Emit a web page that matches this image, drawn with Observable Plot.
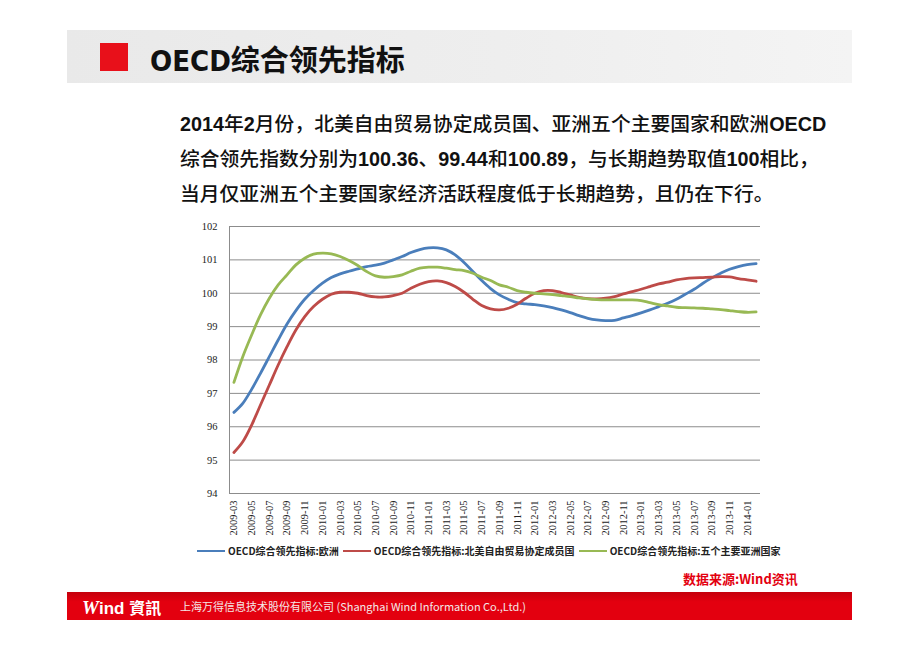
<!DOCTYPE html>
<html>
<head>
<meta charset="utf-8">
<script src="https://cdn.jsdelivr.net/npm/d3@7"></script>
<script src="https://cdn.jsdelivr.net/npm/@observablehq/plot@0.6"></script>
<style>
  html, body { margin: 0; padding: 0; background: #fff; }
  body { width: 920px; height: 651px; position: relative; overflow: hidden; font-family: "Liberation Sans", "Noto Sans CJK SC", sans-serif; }
  .titlebar { position: absolute; left: 67px; top: 30px; width: 785px; height: 53px;
    background: linear-gradient(to right, #e9e9e9 0%, #eeeeee 55%, #f4f4f4 100%); }
  .redsq { position: absolute; left: 100px; top: 43px; width: 28px; height: 28px; background: #e8101a; }
  .title { position: absolute; left: 150px; top: 37px; font-family: "Liberation Sans Narrow", "DejaVu Sans Condensed", "Noto Sans CJK SC", sans-serif;
    font-weight: bold; font-size: 29px; color: #111; }
  .para { position: absolute; left: 180px; top: 106px; width: 680px; font-size: 19.8px; line-height: 34px; color: #111;
    font-family: "Noto Sans CJK SC", sans-serif; font-weight: 500; }
  .para b { font-family: "Liberation Sans", sans-serif; font-weight: bold; }
  #chart { position: absolute; left: 180px; top: 215px; }
  .legend { position: absolute; left: 197px; top: 543px; font-size: 10px; font-family: "Noto Sans CJK SC", sans-serif; font-weight: bold; color: #222; white-space: nowrap; display: flex; align-items: center; }
  .legend .sw { display: inline-block; width: 28px; height: 2px; margin-right: 3px; }
  .legend .item { display: inline-flex; align-items: center; margin-right: 4px; }
  .source { position: absolute; left: 683px; top: 569px; font-size: 13px; font-weight: bold; color: #e3000f; font-family: "Noto Sans CJK SC", sans-serif; }
  .footer { position: absolute; left: 67px; top: 592px; width: 785px; height: 28px;
    background: linear-gradient(to bottom, #c4000c 0%, #e3000f 35%, #e3000f 100%); }
  .logo { position: absolute; left: 82px; top: 595px; color: #fff; font-weight: bold; font-size: 17px; white-space: nowrap; }
  .logo i { font-family: "Liberation Serif", serif; font-size: 19px; }
  .logo .cj { font-family: "Noto Sans CJK TC", sans-serif; font-size: 16px; }
  .company { position: absolute; left: 180px; top: 598px; color: #f4e8e8; font-size: 11px; font-family: "Liberation Sans Narrow", "Noto Sans CJK SC", sans-serif; white-space: nowrap; }
</style>
</head>
<body>
<div class="titlebar"></div>
<div class="redsq"></div>
<div class="title">OECD综合领先指标</div>
<div class="para"><b>2014</b>年<b>2</b>月份，北美自由贸易协定成员国、亚洲五个主要国家和欧洲<b>OECD</b><br>综合领先指数分别为<b>100.36</b>、<b>99.44</b>和<b>100.89</b>，与长期趋势取值<b>100</b>相比，<br>当月仅亚洲五个主要国家经济活跃程度低于长期趋势，且仍在下行。</div>
<div id="chart"></div>
<div class="legend" id="legend"></div>
<div class="source">数据来源:Wind资讯</div>
<div class="footer"></div>
<div class="logo"><i>W</i>ind <span class="cj">資訊</span></div>
<div class="company">上海万得信息技术股份有限公司 (Shanghai Wind Information Co.,Ltd.)</div>
<script>
const months = [
  "2009-03","2009-04","2009-05","2009-06","2009-07","2009-08","2009-09","2009-10","2009-11","2009-12",
  "2010-01","2010-02","2010-03","2010-04","2010-05","2010-06","2010-07","2010-08","2010-09","2010-10",
  "2010-11","2010-12","2011-01","2011-02","2011-03","2011-04","2011-05","2011-06","2011-07","2011-08",
  "2011-09","2011-10","2011-11","2011-12","2012-01","2012-02","2012-03","2012-04","2012-05","2012-06",
  "2012-07","2012-08","2012-09","2012-10","2012-11","2012-12","2013-01","2013-02","2013-03","2013-04",
  "2013-05","2013-06","2013-07","2013-08","2013-09","2013-10","2013-11","2013-12","2014-01","2014-02"
];
const xTickLabels = [
  "2009-03","2009-05","2009-07","2009-09","2009-11","2010-01","2010-03","2010-05","2010-07","2010-09",
  "2010-11","2011-01","2011-03","2011-05","2011-07","2011-09","2011-11","2012-01","2012-03","2012-05",
  "2012-07","2012-09","2012-11","2013-01","2013-03","2013-05","2013-07","2013-09","2013-11","2014-01"
];
const yTicks = [94, 95, 96, 97, 98, 99, 100, 101, 102];

const europe = [
  96.43, 96.70, 97.12, 97.60, 98.10, 98.60, 99.08, 99.48, 99.82, 100.08,
  100.30, 100.47, 100.58, 100.66, 100.73, 100.80, 100.84, 100.90, 101.00, 101.10,
  101.22, 101.31, 101.36, 101.36, 101.30, 101.15, 100.92, 100.65, 100.38, 100.14,
  99.95, 99.82, 99.72, 99.68, 99.66, 99.62, 99.57, 99.50, 99.42, 99.33,
  99.25, 99.20, 99.18, 99.19, 99.26, 99.33, 99.41, 99.50, 99.60, 99.70,
  99.82, 99.97, 100.12, 100.30, 100.46, 100.60, 100.72, 100.80, 100.86, 100.89
];
const nafta = [
  95.23, 95.55, 96.05, 96.65, 97.25, 97.85, 98.40, 98.90, 99.30, 99.60,
  99.82, 99.97, 100.03, 100.03, 100.00, 99.93, 99.89, 99.89, 99.93, 100.00,
  100.15, 100.27, 100.35, 100.37, 100.32, 100.20, 100.03, 99.82, 99.63, 99.53,
  99.50, 99.55, 99.67, 99.85, 100.00, 100.08, 100.08, 100.02, 99.95, 99.88,
  99.84, 99.83, 99.85, 99.90, 99.98, 100.05, 100.12, 100.20, 100.28, 100.33,
  100.40, 100.44, 100.46, 100.47, 100.48, 100.50, 100.49, 100.44, 100.40, 100.36
];
const asia = [
  97.33, 98.10, 98.75, 99.35, 99.85, 100.25, 100.55, 100.85, 101.05, 101.17,
  101.20, 101.18, 101.10, 100.98, 100.83, 100.65, 100.52, 100.48, 100.50, 100.55,
  100.66, 100.75, 100.78, 100.78, 100.75, 100.71, 100.68, 100.60, 100.48, 100.38,
  100.25, 100.18, 100.08, 100.03, 100.00, 99.98, 99.96, 99.93, 99.90, 99.86,
  99.83, 99.81, 99.80, 99.80, 99.80, 99.80, 99.78, 99.72, 99.66, 99.62,
  99.58, 99.57, 99.56, 99.55, 99.53, 99.51, 99.48, 99.45, 99.43, 99.44
];
const seriesNames = ["OECD综合领先指标:欧洲", "OECD综合领先指标:北美自由贸易协定成员国", "OECD综合领先指标:五个主要亚洲国家"];
const seriesColors = ["#4a7ebb", "#be4b48", "#98b954"];

const seriesValues = [europe, nafta, asia];
const data = [];
seriesValues.forEach((vals, s) => vals.forEach((v, i) => data.push({month: months[i], value: v, series: seriesNames[s]})));

const leftAxisLine = (index, scales, values, dims) => {
  const x = dims.marginLeft + 0.5;
  return d3.create("svg:line")
    .attr("x1", x).attr("x2", x)
    .attr("y1", scales.y(yTicks[yTicks.length - 1])).attr("y2", scales.y(yTicks[0]))
    .attr("stroke", "#8c8c8c").attr("stroke-width", 1).node();
};

const chart = Plot.plot({
  width: 600,
  height: 330,
  marginLeft: 49,
  marginRight: 20,
  marginTop: 11,
  marginBottom: 52,
  style: {fontFamily: "Liberation Serif, serif", fontSize: "10.5px", background: "transparent", color: "#222"},
  x: {type: "point", domain: months, padding: 0.5, ticks: xTickLabels, tickRotate: -90, tickSize: 0, tickPadding: 7, label: null, fontSize: "11px"},
  y: {domain: [94, 102], ticks: yTicks, tickSize: 0, tickPadding: 12, label: null},
  color: {domain: seriesNames, range: seriesColors},
  marks: [
    Plot.gridY(yTicks, {stroke: "#8c8c8c", strokeOpacity: 1, strokeWidth: 1}),
    leftAxisLine,
    Plot.lineY(data, {x: "month", y: "value", z: "series", stroke: "series", strokeWidth: 2.8, curve: "catmull-rom"})
  ]
});
document.getElementById("chart").appendChild(chart);

const legend = document.getElementById("legend");
seriesNames.forEach((name, i) => {
  const item = document.createElement("span");
  item.className = "item";
  const sw = document.createElement("span");
  sw.className = "sw";
  sw.style.background = seriesColors[i];
  item.appendChild(sw);
  item.appendChild(document.createTextNode(name));
  legend.appendChild(item);
});
</script>
</body>
</html>
